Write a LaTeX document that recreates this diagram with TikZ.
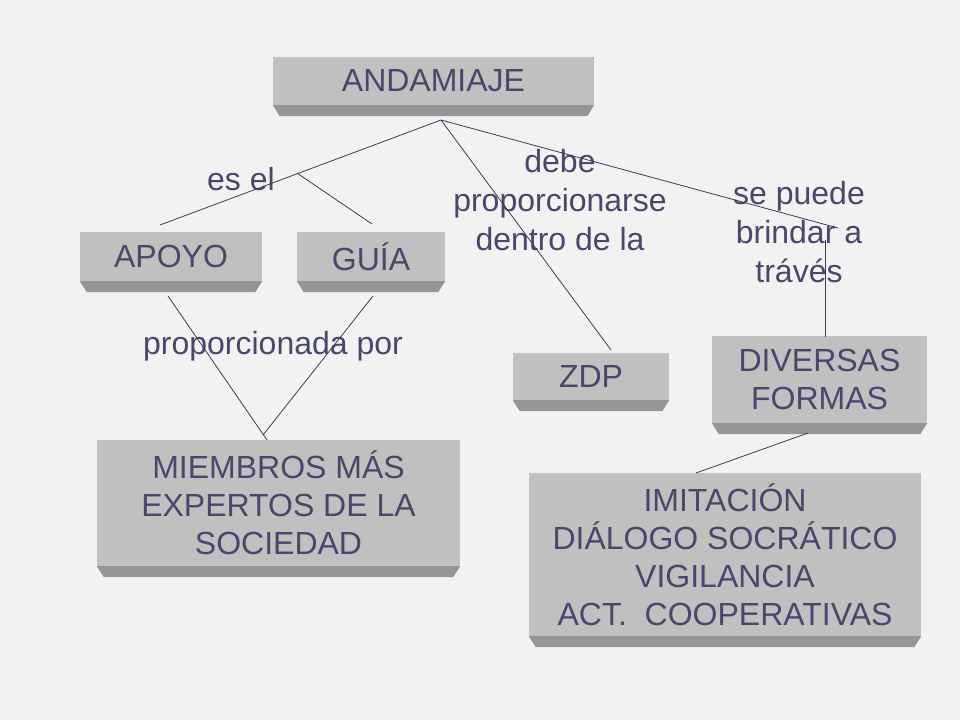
\documentclass[tikz,border=0pt]{standalone}
\usepackage{fontspec}
\setmainfont{Liberation Sans}
\usetikzlibrary{calc}
\definecolor{bg}{RGB}{242,242,242}
\definecolor{face}{RGB}{192,192,192}
\definecolor{bevel}{RGB}{150,150,150}
\definecolor{txt}{RGB}{72,72,108}
\definecolor{ln}{RGB}{60,60,90}
\tikzset{
  box/.style={fill=face, draw=none, inner sep=0pt, text=txt, align=center,
    font=\fontsize{32}{38}\selectfont},
  lbl/.style={inner sep=0pt, text=txt, align=center,
    font=\fontsize{32}{39}\selectfont},
  conn/.style={draw=ln, line width=0.8pt}
}
\newcommand{\bevelunder}[1]{%
  \fill[bevel] (#1.south west) -- (#1.south east) -- ++(-7,11) -- ($(#1.south west)+(7,11)$) -- cycle;}
\begin{document}
\begin{tikzpicture}[x=1pt,y=-1pt]
\useasboundingbox (0,0) rectangle (960,720);
\fill[bg] (0,0) rectangle (960,720);

% boxes
\node[box, minimum width=321pt, minimum height=48pt] (andamiaje) at (433.5,81) {ANDAMIAJE};
\node[box, minimum width=182pt, minimum height=49pt] (apoyo) at (171,256.5) {APOYO};
\node[box, minimum width=148pt, minimum height=49pt] (guia) at (371,256.5) {GUÍA};
\node[box, minimum width=156pt, minimum height=47pt] (zdp) at (591,376.5) {ZDP};
\node[box, minimum width=215pt, minimum height=87pt] (diversas) at (819.5,379.5) {DIVERSAS\\FORMAS};
\node[box, minimum width=363pt, minimum height=126pt] (miembros) at (278.5,503) {MIEMBROS MÁS\\EXPERTOS DE LA\\SOCIEDAD};
\node[box, minimum width=392pt, minimum height=163pt] (imitacion) at (725,554.5) {IMITACIÓN\\DIÁLOGO SOCRÁTICO\\VIGILANCIA\\ACT.\ \ COOPERATIVAS};
\foreach \n in {andamiaje,apoyo,guia,zdp,diversas,miembros,imitacion}{\bevelunder{\n}}

% labels
\node[lbl] (esel) at (241,179) {es el};
\node[lbl] (debe) at (560,200) {debe\\proporcionarse\\dentro de la};
\node[lbl] (sepuede) at (799,232) {se puede\\brindar a\\trávés};
\node[lbl] (propor) at (273,346) {proporcionada por};

% connector end points
\coordinate (j0) at (441,120);
\coordinate (ap) at (160,225);
\coordinate (gu) at (372,224);
\coordinate (zd) at (611,350);
\coordinate (sp) at (838,228);
\coordinate (v1) at (825,240);
\coordinate (v2) at (825,337);
\coordinate (ap2) at (168,296);
\coordinate (gu2) at (373,296);
\coordinate (m1) at (267,440);
\coordinate (m2) at (263,435);
\coordinate (dv) at (808,433);
\coordinate (im) at (696,473);
\path (j0) -- (ap) coordinate[pos=0.51] (br);

% connectors
\draw[conn] (j0) -- (ap);
\draw[conn] (br) -- (gu);
\draw[conn] (j0) -- (zd);
\draw[conn] (j0) -- (sp);
\draw[conn] (v1) -- (v2);
\draw[conn] (ap2) -- (m1);
\draw[conn] (gu2) -- (m2);
\draw[conn] (dv) -- (im);
\end{tikzpicture}
\end{document}
